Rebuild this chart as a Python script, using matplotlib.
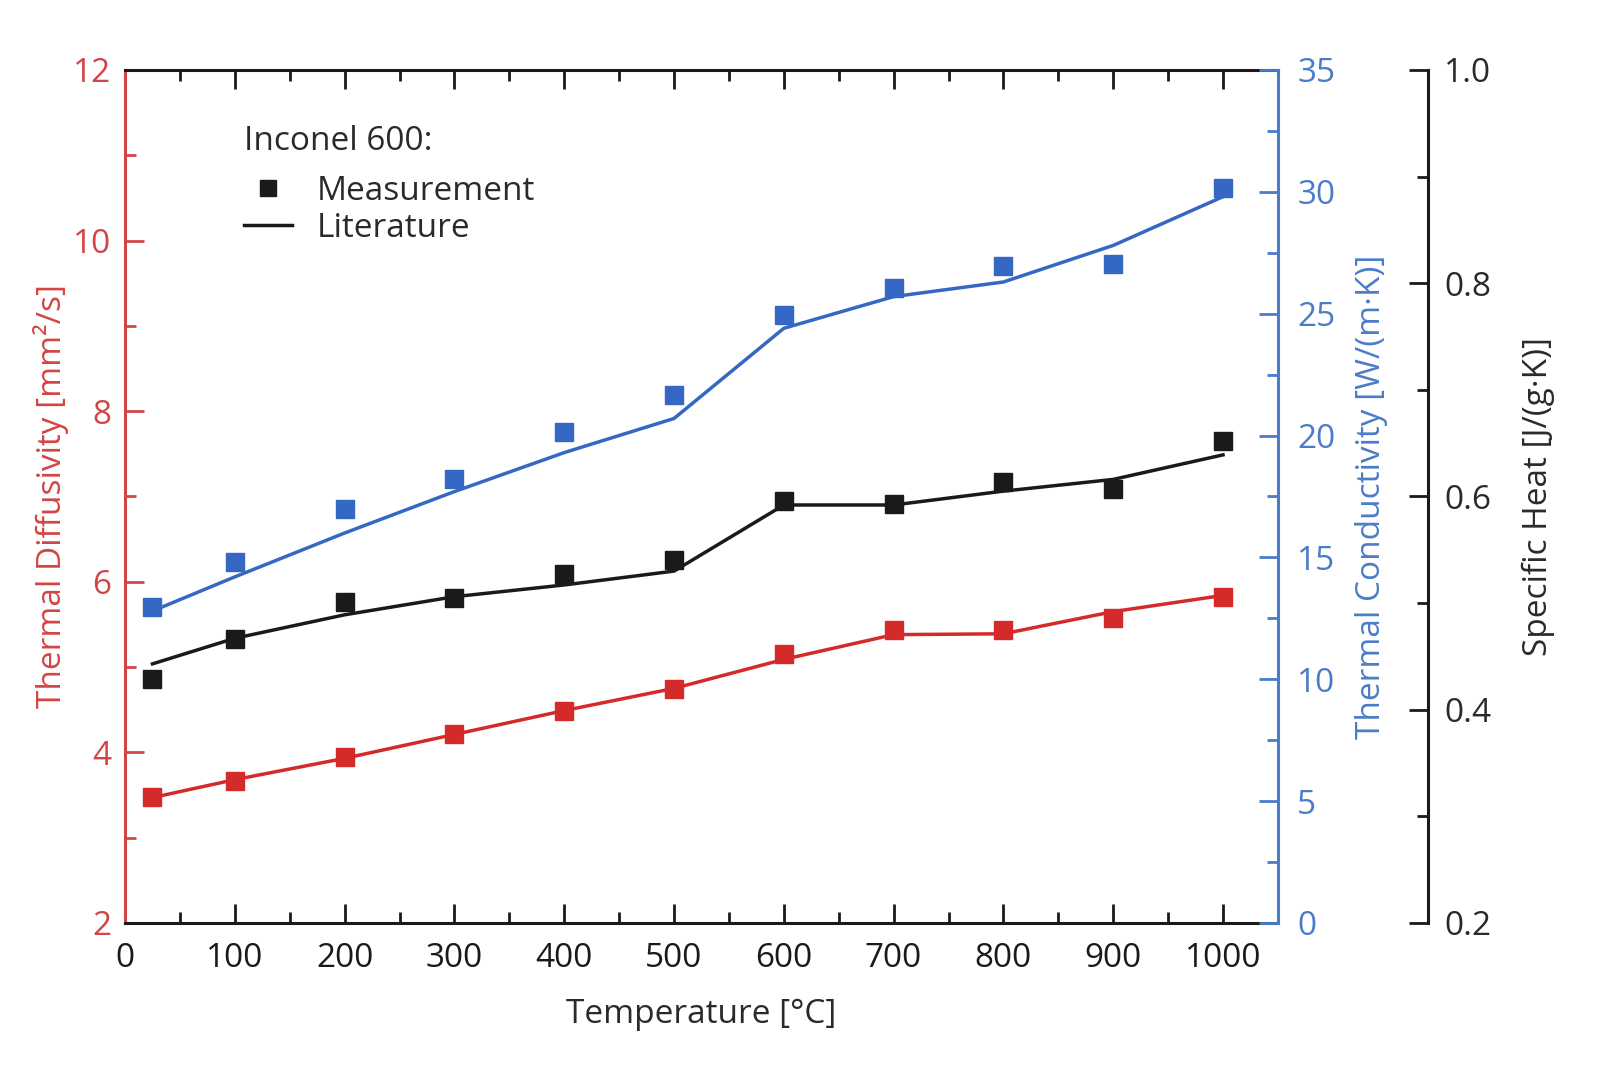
import matplotlib
matplotlib.use("Agg")
import matplotlib.pyplot as plt
from matplotlib.lines import Line2D
from matplotlib.ticker import MultipleLocator, FormatStrFormatter

plt.rcParams['font.family'] = ['Open Sans', 'DejaVu Sans']

temperature = [25, 100, 200, 300, 400, 500, 600, 700, 800, 900, 1000]

diffusivity_meas = [3.48, 3.67, 3.94, 4.22, 4.49, 4.74, 5.15, 5.43, 5.44, 5.57, 5.82]
diffusivity_lit = [3.47, 3.68, 3.93, 4.21, 4.49, 4.75, 5.09, 5.38, 5.39, 5.65, 5.84]

conductivity_meas = [12.97, 14.81, 16.99, 18.2, 20.13, 21.67, 24.94, 26.07, 26.95, 27.03, 30.17]
conductivity_lit = [12.8, 14.2, 16.0, 17.7, 19.3, 20.7, 24.4, 25.7, 26.3, 27.8, 29.8]

cp_meas = [0.429, 0.466, 0.501, 0.505, 0.527, 0.540, 0.596, 0.593, 0.614, 0.607, 0.652]
cp_lit = [0.443, 0.467, 0.489, 0.506, 0.517, 0.530, 0.592, 0.592, 0.605, 0.616, 0.639]

RED = '#d42a2a'
RED_AX = '#d34545'
BLUE = '#3568c4'
BLUE_AX = '#4a7cc8'
BLACK = '#1a1a1a'
TXT = '#2a2a2a'

fig = plt.figure(figsize=(16.03, 10.68), dpi=100)
ax = fig.add_axes([0.078, 0.1358, 0.7192, 0.7987])
ax2 = ax.twinx()
ax3 = ax.twinx()

FS = 24
ms = 13
lw = 2.5

# Left axis: diffusivity
ax.plot(temperature, diffusivity_lit, color=RED, lw=lw, zorder=2)
ax.plot(temperature, diffusivity_meas, ls='none', marker='s', ms=ms, color=RED, zorder=3)
ax.set_xlim(0, 1050)
ax.set_ylim(2, 12)
ax.xaxis.set_major_locator(MultipleLocator(100))
ax.xaxis.set_minor_locator(MultipleLocator(50))
ax.yaxis.set_major_locator(MultipleLocator(2))
ax.yaxis.set_minor_locator(MultipleLocator(1))
ax.tick_params(axis='x', which='both', direction='in', top=True, colors=BLACK, labelsize=FS, pad=14)
ax.tick_params(axis='x', which='major', length=14, width=2)
ax.tick_params(axis='x', which='minor', length=8, width=2)
ax.tick_params(axis='y', which='both', direction='in', colors=RED_AX, labelsize=FS, width=2, pad=10)
ax.tick_params(axis='y', which='major', length=14)
ax.tick_params(axis='y', which='minor', length=8)
ax.spines['left'].set_color(RED_AX)
ax.spines['top'].set_color(BLACK)
ax.spines['bottom'].set_color(BLACK)
ax.spines['right'].set_visible(False)
for s in ['left', 'top', 'bottom']:
    ax.spines[s].set_linewidth(2.2)
ax.set_ylabel('Thermal Diffusivity [mm²/s]', color=RED_AX, fontsize=FS, labelpad=3)
ax.set_xlabel('Temperature [°C]', color=TXT, fontsize=FS, labelpad=16)

# Right axis: conductivity
ax2.plot(temperature, conductivity_lit, color=BLUE, lw=lw, zorder=2)
ax2.plot(temperature, conductivity_meas, ls='none', marker='s', ms=ms, color=BLUE, zorder=3)
ax2.set_ylim(0, 35)
ax2.yaxis.set_major_locator(MultipleLocator(5))
ax2.yaxis.set_minor_locator(MultipleLocator(2.5))
ax2.tick_params(axis='y', which='both', direction='in', colors=BLUE_AX, labelsize=FS, width=2, pad=14)
ax2.tick_params(axis='y', which='major', length=14)
ax2.tick_params(axis='y', which='minor', length=8)
for s in ['left', 'top', 'bottom']:
    ax2.spines[s].set_visible(False)
ax2.spines['right'].set_color(BLUE_AX)
ax2.spines['right'].set_linewidth(2.2)
ax2.set_ylabel('Thermal Conductivity [W/(m·K)]', color=BLUE_AX, fontsize=FS, labelpad=14)

# Third axis: specific heat
ax3.plot(temperature, cp_lit, color=BLACK, lw=lw, zorder=2)
ax3.plot(temperature, cp_meas, ls='none', marker='s', ms=ms, color=BLACK, zorder=3)
ax3.set_ylim(0.2, 1.0)
ax3.spines['right'].set_position(('axes', 1.13))
for s in ['left', 'top', 'bottom']:
    ax3.spines[s].set_visible(False)
ax3.spines['right'].set_color(BLACK)
ax3.spines['right'].set_linewidth(2.2)
ax3.yaxis.set_major_locator(MultipleLocator(0.2))
ax3.yaxis.set_minor_locator(MultipleLocator(0.1))
ax3.yaxis.set_major_formatter(FormatStrFormatter('%.1f'))
ax3.tick_params(axis='y', which='both', direction='in', colors=BLACK, labelsize=FS, width=2, pad=12)
ax3.tick_params(axis='y', which='major', length=14)
ax3.tick_params(axis='y', which='minor', length=8)
ax3.set_ylabel('Specific Heat [J/(g·K)]', color=TXT, fontsize=FS, labelpad=22)
for lab in ax3.get_yticklabels():
    lab.set_color(TXT)

handles = [
    Line2D([], [], ls='none', marker='s', ms=11, color=BLACK),
    Line2D([], [], color=BLACK, lw=lw),
]
leg = ax3.legend(handles, ['Measurement', 'Literature'], title='Inconel 600:',
                 loc='upper left', bbox_to_anchor=(0.103, 0.935), frameon=False,
                 fontsize=FS, title_fontsize=FS, handlelength=1.45, handletextpad=0.75,
                 labelspacing=0.12, borderaxespad=0, borderpad=0)
leg._legend_box.align = 'left'
leg._legend_box.sep = 12
for t in leg.get_texts():
    t.set_color(TXT)
leg.get_title().set_color(TXT)

fig.savefig('out.png', dpi=100)
